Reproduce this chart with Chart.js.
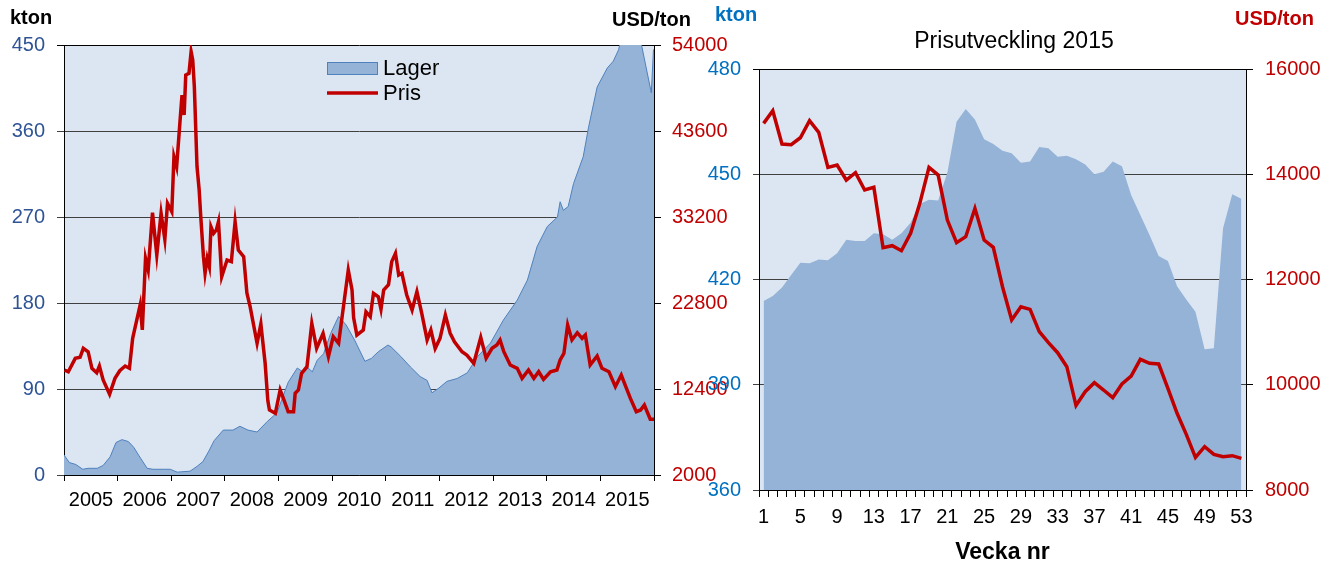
<!DOCTYPE html>
<html>
<head>
<meta charset="utf-8">
<script src="https://cdn.jsdelivr.net/npm/chart.js@4.4.1/dist/chart.umd.min.js"></script>
<style>
  html, body { margin: 0; padding: 0; background: #fff; }
  #wrap { position: relative; width: 1331px; height: 566px; overflow: hidden; }
  #leftChart { position: absolute; left: 0; top: 0; }
  #rightChart { position: absolute; left: 697px; top: 0; }
</style>
</head>
<body>
<div id="wrap">
  <canvas id="leftChart" width="745" height="566"></canvas>
  <canvas id="rightChart" width="634" height="566"></canvas>
</div>
<script>
// ---- left chart: 2005-2015, stock (kton) and price (USD/ton) ----
var yearTicks = [2005, 2006, 2007, 2008, 2009, 2010, 2011, 2012, 2013, 2014, 2015, 2016];
var ktonTicks = [0, 90, 180, 270, 360, 450];
var usdTicks = [2000, 12400, 22800, 33200, 43600, 54000];

var lagerYears = [2005.00, 2005.10, 2005.22, 2005.35, 2005.45, 2005.62, 2005.73, 2005.86, 2005.97, 2006.08,
  2006.20, 2006.30, 2006.40, 2006.55, 2006.66, 2006.85, 2006.98, 2007.11, 2007.35, 2007.48,
  2007.59, 2007.70, 2007.80, 2007.97, 2008.15, 2008.28, 2008.43, 2008.60, 2008.79, 2008.97,
  2009.10, 2009.18, 2009.35, 2009.45, 2009.55, 2009.63, 2009.72, 2009.84, 2009.97, 2010.12,
  2010.26, 2010.42, 2010.61, 2010.73, 2010.86, 2011.04, 2011.10, 2011.28, 2011.46, 2011.64,
  2011.77, 2011.86, 2011.99, 2012.14, 2012.33, 2012.52, 2012.71, 2012.95, 2013.19, 2013.45,
  2013.64, 2013.82, 2014.01, 2014.20, 2014.25, 2014.31, 2014.40, 2014.50, 2014.68, 2014.78,
  2014.94, 2015.13, 2015.24, 2015.34, 2015.41, 2015.60, 2015.76, 2015.95, 2015.99, 2016.00];
var lagerKton = [21, 13, 11, 6, 7, 7, 10, 19, 34, 37,
  35, 29, 20, 7, 6, 6, 6, 3, 4, 9,
  14, 25, 36, 47, 47, 51, 47, 45, 56, 65,
  85, 97, 112, 108, 112, 108, 120, 127, 148, 166,
  157, 141, 119, 122, 129, 136, 134, 124, 113, 103,
  99, 86, 91, 98, 101, 107, 124, 138, 162, 183,
  204, 239, 260, 270, 286, 277, 281, 305, 333, 364,
  406, 426, 433, 445, 462, 470, 452, 400, 445, 445];

var prisYears = [2005.01, 2005.08, 2005.21, 2005.30, 2005.36, 2005.45, 2005.52, 2005.61, 2005.66, 2005.73,
  2005.85, 2005.95, 2006.04, 2006.14, 2006.22, 2006.28, 2006.42, 2006.46, 2006.52, 2006.57,
  2006.65, 2006.73, 2006.81, 2006.88, 2006.93, 2007.01, 2007.05, 2007.10, 2007.16, 2007.20,
  2007.24, 2007.27, 2007.33, 2007.37, 2007.40, 2007.43, 2007.48, 2007.52, 2007.55, 2007.60,
  2007.63, 2007.67, 2007.71, 2007.74, 2007.79, 2007.84, 2007.88, 2007.94, 2008.04, 2008.12,
  2008.19, 2008.25, 2008.35, 2008.41, 2008.47, 2008.60, 2008.67, 2008.75, 2008.80, 2008.83,
  2008.94, 2009.03, 2009.09, 2009.18, 2009.28, 2009.31, 2009.37, 2009.43, 2009.53, 2009.62,
  2009.71, 2009.83, 2009.93, 2010.02, 2010.12, 2010.21, 2010.30, 2010.37, 2010.40, 2010.46,
  2010.58, 2010.63, 2010.71, 2010.77, 2010.86, 2010.91, 2010.96, 2011.05, 2011.11, 2011.18,
  2011.24, 2011.30, 2011.39, 2011.49, 2011.58, 2011.67, 2011.77, 2011.84, 2011.92, 2012.01,
  2012.11, 2012.20, 2012.28, 2012.42, 2012.51, 2012.64, 2012.77, 2012.87, 2012.98, 2013.07,
  2013.13, 2013.20, 2013.32, 2013.45, 2013.54, 2013.66, 2013.76, 2013.85, 2013.94, 2014.07,
  2014.19, 2014.25, 2014.32, 2014.39, 2014.47, 2014.57, 2014.66, 2014.72, 2014.81, 2014.94,
  2015.03, 2015.16, 2015.28, 2015.39, 2015.47, 2015.56, 2015.67, 2015.75, 2015.82, 2015.93,
  2016.00];
var prisUsd = [14700, 14490, 16110, 16230, 17320, 16910, 14900, 14370, 15180, 13490,
  11760, 13690, 14610, 15180, 14900, 18530, 22560, 19540, 28200, 26790,
  33720, 28600, 33640, 30500, 34860, 33840, 40490, 39280, 44530, 47950,
  45530, 50370, 50580, 53190, 52190, 48960, 39280, 36470, 33230, 28400,
  26390, 28200, 27190, 32030, 31230, 31630, 32630, 25980, 28000, 27800,
  32630, 29210, 28400, 24000, 22360, 17930, 20260, 15510, 11000, 9860,
  9460, 12280, 11270, 9660, 9660, 11880, 12280, 14300, 15100, 20340,
  17320, 19140, 16310, 18730, 17930, 22360, 26790, 24370, 21000, 18930,
  19530, 21750, 21150, 23970, 23560, 22040, 24370, 25000, 27800, 28810,
  26190, 26390, 23770, 21950, 24170, 21550, 18330, 19530, 17300, 18530,
  21350, 19140, 18120, 16910, 16510, 15510, 18650, 16110, 17320, 17720,
  18330, 16910, 15300, 14900, 13690, 14700, 13690, 14490, 13570, 14490,
  14700, 15910, 16710, 20140, 18330, 19210, 18530, 18930, 15300, 16390,
  14900, 14490, 12680, 14090, 12760, 11270, 9660, 9860, 10470, 8740,
  8740];

// ---- right chart: 2015 weekly ----
var weeks = ['1', '2', '3', '4', '5', '6', '7', '8', '9', '10', '11', '12', '13', '14', '15', '16', '17', '18',
  '19', '20', '21', '22', '23', '24', '25', '26', '27', '28', '29', '30', '31', '32', '33', '34', '35', '36',
  '37', '38', '39', '40', '41', '42', '43', '44', '45', '46', '47', '48', '49', '50', '51', '52', '53'];
var lager2015 = [413.9, 415.3, 417.7, 421.3, 424.8, 424.6, 425.7, 425.5, 427.5, 431.3,
  431.0, 431.0, 433.2, 432.9, 431.3, 433.2, 436.2, 441.5, 442.7, 442.5,
  450.5, 465.0, 468.6, 465.6, 460.0, 458.6, 456.7, 456.0, 453.3, 453.6,
  457.8, 457.4, 455.0, 455.3, 454.3, 452.8, 450.0, 450.7, 453.6, 452.3,
  444.1, 438.4, 432.7, 426.7, 425.3, 418.1, 414.3, 410.8, 400.1, 400.4,
  434.6, 444.3, 443.0];
var pris2015 = [14967, 15207, 14574, 14561, 14694, 15017, 14796, 14131, 14175, 13890,
  14029, 13700, 13751, 12604, 12642, 12547, 12877, 13447, 14131, 13985,
  13130, 12699, 12813, 13352, 12750, 12611, 11863, 11230, 11483, 11433,
  11008, 10799, 10609, 10343, 9605, 9868, 10039, 9900, 9754, 10014,
  10166, 10483, 10407, 10394, 9932, 9457, 9058, 8621, 8823, 8678,
  8633, 8652, 8602];
var ktonTicks2015 = [360, 390, 420, 450, 480];
var usdTicks2015 = [8000, 10000, 12000, 14000, 16000];

var plotBg = '#DCE6F2';
var areaFill = '#95B3D7';
var areaEdge = '#4F81BD';
var red = '#C00000';

Chart.defaults.font.family = "'Liberation Sans', Arial, sans-serif";
Chart.defaults.font.size = 20;

// light blue plot background
const plotBackground = {
  id: 'plotBackground',
  beforeDraw(chart, args, opts) {
    const a = chart.chartArea;
    chart.ctx.save();
    chart.ctx.fillStyle = opts.color;
    chart.ctx.fillRect(a.left, a.top, a.width, a.height);
    chart.ctx.restore();
  }
};

// unit labels above the axes
const cornerTexts = {
  id: 'cornerTexts',
  afterDraw(chart, args, opts) {
    const ctx = chart.ctx;
    ctx.save();
    ctx.textBaseline = 'middle';
    opts.items.forEach(function (t) {
      ctx.font = t.font;
      ctx.fillStyle = t.color;
      ctx.textAlign = 'left';
      ctx.fillText(t.text, t.x, t.y);
    });
    ctx.restore();
  }
};

// legend drawn inside the plot
const legendInPlot = {
  id: 'legendInPlot',
  afterDatasetsDraw(chart, args, opts) {
    if (!opts.display) return;
    const ctx = chart.ctx;
    ctx.save();
    ctx.font = opts.font;
    ctx.textBaseline = 'middle';
    chart.data.datasets.forEach(function (ds, i) {
      const cy = opts.y + i * opts.rowGap;
      if (ds.fill) {
        ctx.fillStyle = ds.backgroundColor;
        ctx.fillRect(opts.x, cy - 6, opts.swatch, 13);
        ctx.strokeStyle = ds.borderColor;
        ctx.lineWidth = 1;
        ctx.strokeRect(opts.x + 0.5, cy - 5.5, opts.swatch - 1, 12);
      } else {
        ctx.strokeStyle = ds.borderColor;
        ctx.lineWidth = ds.borderWidth;
        ctx.beginPath();
        ctx.moveTo(opts.x, cy);
        ctx.lineTo(opts.x + opts.swatch, cy);
        ctx.stroke();
      }
      ctx.fillStyle = '#000';
      ctx.fillText(ds.label, opts.x + opts.swatch + 5, cy + 1);
    });
    ctx.restore();
  }
};

function gridColor(topValue) {
  return function (c) {
    return c.tick && c.tick.value === topValue ? '#000' : '#404040';
  };
}

function setTicks(values) {
  return function (scale) {
    scale.ticks = values.map(function (v) { return { value: v }; });
  };
}

function plainNumber(v) {
  return String(v);
}

new Chart(document.getElementById('leftChart'), {
  type: 'line',
  data: {
    datasets: [{
      label: 'Lager',
      data: lagerYears.map(function (x, i) { return { x: x, y: lagerKton[i] }; }),
      yAxisID: 'yKton',
      fill: 'origin',
      backgroundColor: areaFill,
      borderColor: areaEdge,
      borderWidth: 1,
      pointRadius: 0,
      tension: 0,
      order: 1
    }, {
      label: 'Pris',
      data: prisYears.map(function (x, i) { return { x: x, y: prisUsd[i] }; }),
      yAxisID: 'yUsd',
      fill: false,
      borderColor: red,
      borderWidth: 3.5,
      pointRadius: 0,
      tension: 0,
      order: 0
    }]
  },
  options: {
    responsive: false,
    animation: false,
    layout: { padding: { top: 45, left: 0, right: 0, bottom: 0 } },
    plugins: {
      legend: { display: false },
      tooltip: { enabled: false },
      plotBackground: { color: plotBg },
      legendInPlot: { display: true, x: 327, y: 68, rowGap: 25, swatch: 51, font: "22px 'Liberation Sans', Arial, sans-serif" },
      cornerTexts: {
        items: [
          { text: 'kton', x: 10, y: 18, color: '#000', font: "bold 20px 'Liberation Sans', Arial, sans-serif" },
          { text: 'USD/ton', x: 612, y: 20, color: '#000', font: "bold 20px 'Liberation Sans', Arial, sans-serif" }
        ]
      }
    },
    scales: {
      x: {
        type: 'linear',
        min: 2005,
        max: 2016,
        afterBuildTicks: setTicks(yearTicks),
        afterFit: function (s) { s.height = 91; },
        ticks: {
          callback: function (v) { return v < 2016 ? String(v) : ''; },
          labelOffset: 27,
          padding: 7,
          color: '#000',
          maxRotation: 0,
          autoSkip: false
        },
        grid: { drawOnChartArea: false, tickLength: 6, color: '#000' },
        border: { color: '#000' }
      },
      yKton: {
        position: 'left',
        min: 0,
        max: 450,
        afterBuildTicks: setTicks(ktonTicks),
        afterFit: function (s) { s.width = 64; },
        ticks: { color: '#2F5496', padding: 12, callback: plainNumber },
        grid: { color: gridColor(450), tickLength: 7 },
        border: { color: '#000' }
      },
      yUsd: {
        position: 'right',
        min: 2000,
        max: 54000,
        afterBuildTicks: setTicks(usdTicks),
        afterFit: function (s) { s.width = 91; },
        ticks: { color: red, padding: 11, callback: plainNumber },
        grid: { drawOnChartArea: false, tickLength: 7, color: '#000' },
        border: { color: '#000' }
      }
    }
  },
  plugins: [plotBackground, legendInPlot, cornerTexts]
});

new Chart(document.getElementById('rightChart'), {
  type: 'line',
  data: {
    labels: weeks,
    datasets: [{
      label: 'Lager',
      data: lager2015,
      yAxisID: 'yKton',
      fill: 'start',
      backgroundColor: areaFill,
      borderColor: 'rgba(0,0,0,0)',
      borderWidth: 0,
      pointRadius: 0,
      tension: 0,
      order: 1
    }, {
      label: 'Pris',
      data: pris2015,
      yAxisID: 'yUsd',
      fill: false,
      borderColor: red,
      borderWidth: 3.5,
      pointRadius: 0,
      tension: 0,
      order: 0
    }]
  },
  options: {
    responsive: false,
    animation: false,
    layout: { padding: 0 },
    plugins: {
      legend: { display: false },
      tooltip: { enabled: false },
      title: {
        display: true,
        text: 'Prisutveckling 2015',
        color: '#000',
        font: { size: 23, weight: 'normal' },
        padding: { top: 28, bottom: 13.4 }
      },
      plotBackground: { color: plotBg },
      legendInPlot: { display: false },
      cornerTexts: {
        items: [
          { text: 'kton', x: 18, y: 15, color: '#0070C0', font: "bold 20px 'Liberation Sans', Arial, sans-serif" },
          { text: 'USD/ton', x: 538, y: 19, color: red, font: "bold 20px 'Liberation Sans', Arial, sans-serif" }
        ]
      }
    },
    scales: {
      x: {
        type: 'category',
        offset: true,
        afterFit: function (s) { s.height = 76; },
        ticks: {
          callback: function (v, i) { return i % 4 === 0 ? this.getLabelForValue(v) : ''; },
          autoSkip: false,
          maxRotation: 0,
          padding: 8,
          color: '#000'
        },
        grid: { offset: true, drawOnChartArea: false, tickLength: 7, color: '#000' },
        border: { color: '#000' },
        title: {
          display: true,
          text: 'Vecka nr',
          color: '#000',
          font: { size: 23, weight: 'bold' },
          padding: { top: 0, bottom: 0 }
        }
      },
      yKton: {
        position: 'left',
        min: 360,
        max: 480,
        afterBuildTicks: setTicks(ktonTicks2015),
        afterFit: function (s) { s.width = 62; },
        ticks: { color: '#0070C0', padding: 12, callback: plainNumber },
        grid: { color: gridColor(480), tickLength: 6 },
        border: { color: '#000' }
      },
      yUsd: {
        position: 'right',
        min: 8000,
        max: 16000,
        afterBuildTicks: setTicks(usdTicks2015),
        afterFit: function (s) { s.width = 85; },
        ticks: { color: red, padding: 12, callback: plainNumber },
        grid: { drawOnChartArea: false, tickLength: 7, color: '#000' },
        border: { color: '#000' }
      }
    }
  },
  plugins: [plotBackground, legendInPlot, cornerTexts]
});
</script>
</body>
</html>
